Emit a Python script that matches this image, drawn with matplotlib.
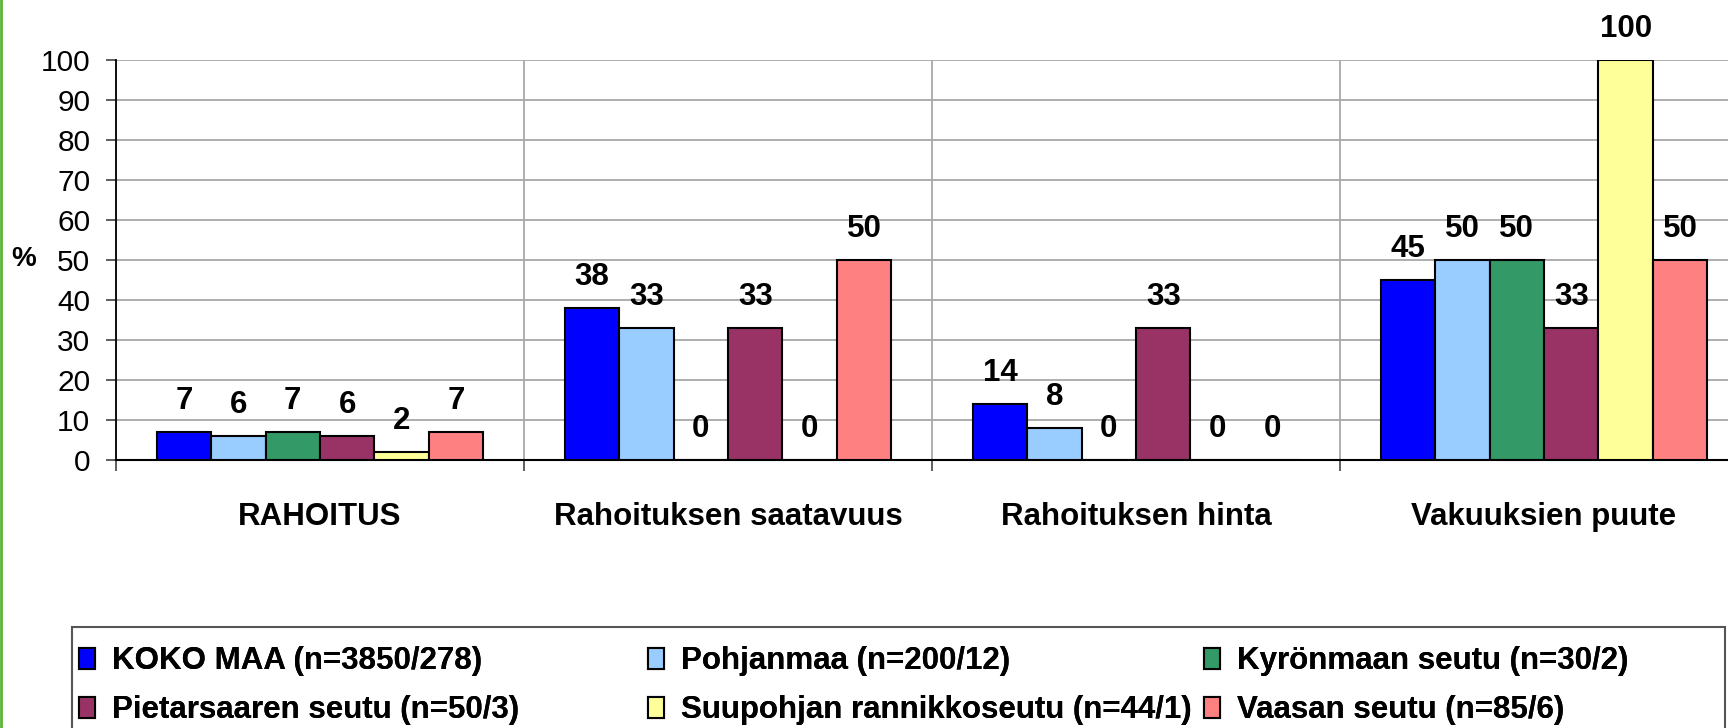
import matplotlib
matplotlib.use("Agg")
import matplotlib.pyplot as plt
from matplotlib.patches import Rectangle
from matplotlib.lines import Line2D
import numpy as np

plt.rcParams['font.family'] = ['Liberation Sans', 'DejaVu Sans']

categories = ["RAHOITUS", "Rahoituksen saatavuus", "Rahoituksen hinta", "Vakuuksien puute"]
series_names = ["KOKO MAA (n=3850/278)", "Pohjanmaa (n=200/12)", "Kyrönmaan seutu (n=30/2)",
                "Pietarsaaren seutu (n=50/3)", "Suupohjan rannikkoseutu (n=44/1)", "Vaasan seutu (n=85/6)"]
koko_maa = [7, 38, 14, 45]
pohjanmaa = [6, 33, 8, 50]
kyronmaa = [7, 0, 0, 50]
pietarsaari = [6, 33, 33, 33]
suupohja = [2, 0, 0, 100]
vaasa = [7, 50, 0, 50]
series_values = [koko_maa, pohjanmaa, kyronmaa, pietarsaari, suupohja, vaasa]
colors = ["#0000FF", "#99CCFF", "#339966", "#993366", "#FFFF99", "#FF8080"]
yticks = list(range(0, 101, 10))

W, H = 1728, 728
fig = plt.figure(figsize=(W / 100, H / 100), dpi=100)
ax = fig.add_axes([116 / W, 268 / H, 1632 / W, 400 / H])

n = len(series_values)
bw = 0.8 / n
x = np.arange(len(categories))
for i, (vals, c) in enumerate(zip(series_values, colors)):
    pos = x - 0.4 + bw * (i + 0.5)
    ax.bar(pos, vals, width=bw, color=c, edgecolor="black", linewidth=1.5, zorder=3,
           label=series_names[i])
    for xp, v in zip(pos, vals):
        ax.annotate(f"{v}", (xp, v), xytext=(0, 22), textcoords="offset points",
                    ha="center", va="center", fontsize=22.5, fontweight="bold",
                    annotation_clip=False)

ax.set_xlim(-0.5, 3.5)
ax.set_ylim(0, 100)
ax.set_yticks(yticks)
ax.set_yticklabels([str(t) for t in yticks], fontsize=21.5)
ax.tick_params(axis="y", direction="out", length=7.5, width=1.1, pad=11, color="#333333")
ax.set_xticks(np.arange(-0.5, 4, 1.0))
ax.set_xticklabels([])
ax.tick_params(axis="x", which="major", direction="out", length=8, width=1.1, color="#333333")
ax.set_xticks(x, minor=True)
ax.set_xticklabels(categories, minor=True, fontsize=22.5, fontweight="bold")
ax.tick_params(axis="x", which="minor", length=0, pad=30)
ax.grid(True, which="major", color="#a8a8a8", linewidth=1.3, zorder=0)
ax.set_axisbelow(True)
for s in ["top", "right"]:
    ax.spines[s].set_visible(False)
ax.spines["left"].set_linewidth(1.3)
ax.spines["bottom"].set_linewidth(1.5)

fig.text(24 / W, 1 - 259 / H, "%", ha="center", va="center", fontsize=20, fontweight="bold")

# legend box
fig.add_artist(Rectangle((72 / W, -0.05), (1725 - 72) / W, 0.05 + (728 - 627) / H,
                         transform=fig.transFigure, facecolor="none", edgecolor="#555555",
                         linewidth=1.5))

handles, labels = ax.get_legend_handles_labels()
col_x = [79, 648, 1204]
cols = [[0, 3], [1, 4], [2, 5]]
for cx, idx in zip(col_x, cols):
    leg = fig.legend([handles[i] for i in idx], [labels[i] for i in idx],
                     loc="upper left", bbox_to_anchor=(cx / W, 1 - 646 / H),
                     frameon=False, borderpad=0, borderaxespad=0,
                     handlelength=0.5, handleheight=0.66, handletextpad=0.55,
                     labelspacing=0.62, prop={"size": 22.5, "weight": "bold"})
    fig.add_artist(leg)

fig.add_artist(Line2D([1.2 / W, 1.2 / W], [0, 1], transform=fig.transFigure,
                      color="#5cb336", linewidth=2))

fig.savefig("out.png", dpi=100)
